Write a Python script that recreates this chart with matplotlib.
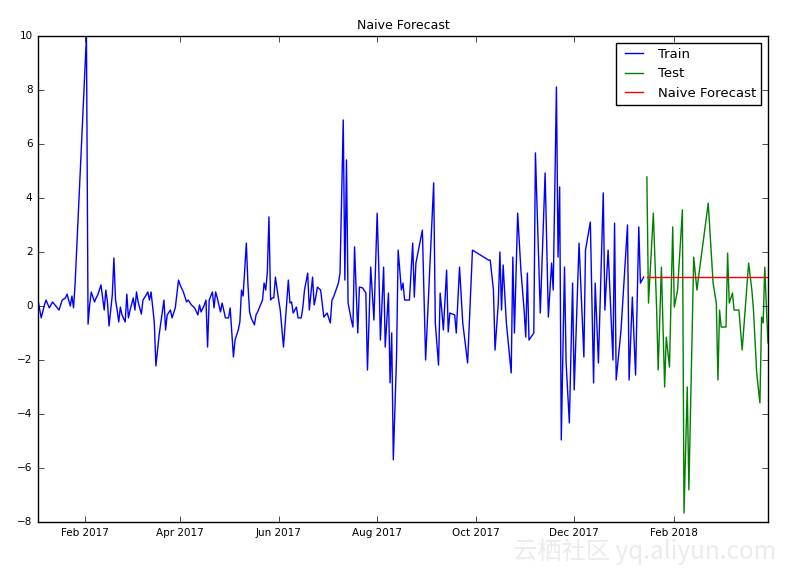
import matplotlib
matplotlib.use("Agg")
import matplotlib.pyplot as plt
import matplotlib.dates as mdates
import numpy as np
import pandas as pd

plt.style.use('classic')

START = "2017-01-01"

train_days = [2, 4, 6, 7, 9, 11, 13, 15, 17, 19, 20, 21, 22, 23, 24, 25,
              32, 33, 34, 35, 37, 38, 39, 40, 41, 43, 44, 45, 46, 48, 49, 50,
              51, 52, 53, 54, 56, 57, 58, 59, 61, 62, 63, 64, 66, 67, 69, 70,
              71, 72, 74, 75, 77, 79, 80, 81, 82, 84, 85, 87, 89, 90, 92, 94,
              95, 97, 99, 101, 102, 103, 105, 106, 107, 108, 110, 111, 112, 113,
              115, 116, 117, 118, 120, 121, 123, 124, 126, 127, 128, 129, 131,
              132, 133, 134, 136, 137, 138, 139, 141, 142, 143, 144, 145, 146,
              147, 148, 149, 151, 152, 154, 157, 158, 159, 160, 162, 163, 165,
              166, 167, 169, 170, 172, 173, 174, 175, 177, 179, 181, 183, 184,
              185, 188, 189, 191, 192, 193, 194, 196, 197, 198, 200, 201, 203,
              205, 206, 208, 210, 212, 213, 214, 216, 217, 219, 220, 221, 222,
              224, 225, 227, 228, 229, 232, 234, 235, 236, 240, 242, 247, 248,
              250, 251, 252, 253, 255, 256, 257, 260, 261, 263, 265, 268, 271,
              281, 282, 284, 285, 287, 288, 289, 290, 292, 295, 296, 297, 299,
              301, 303, 304, 305, 306, 309, 310, 312, 313, 316, 318, 320, 321,
              323, 324, 325, 326, 328, 329, 331, 333, 334, 337, 340, 341, 344,
              346, 347, 349, 352, 353, 355, 358, 359, 360, 363, 367, 368, 370,
              372, 374, 375, 377]
train_values = [0.22, -0.44, 0.04, 0.22, -0.07, 0.15, 0.0, -0.15, 0.22, 0.30, 0.44, 0.22, 0.0, 0.37, -0.07, 0.85,
                10.0, -0.67, 0.04, 0.52, 0.15, 0.30, 0.41, 0.59, 0.78, -0.15, 0.59, 0.15, -0.74, 0.41, 1.78, 0.22,
                -0.15, -0.59, -0.04, -0.33, -0.59, 0.44, -0.44, -0.15, 0.30, -0.15, 0.52, 0.15, -0.30, 0.22, 0.41, 0.52,
                0.22, 0.52, -0.59, -2.22, -1.07, -0.22, 0.22, -0.89, -0.33, -0.15, -0.44, -0.07, 0.96, 0.78, 0.52, 0.15,
                0.22, 0.04, -0.07, -0.33, 0.04, -0.22, 0.04, 0.22, -1.52, 0.22, 0.52, -0.07, 0.52, 0.30,
                -0.22, 0.11, -0.15, -0.44, -0.44, -0.07, -1.89, -1.26, -0.89, -0.59, 0.59, 0.37, 2.33,
                0.78, -0.22, -0.44, -0.70, -0.33, -0.22, -0.07, 0.22, 0.85, 0.59, 1.26, 3.30, 0.22,
                0.30, 0.30, 1.07, 0.22, -0.15, -1.52, 0.96, 0.11, 0.15, -0.26, -0.04, -0.44, -0.44,
                -0.04, 0.59, 1.22, -0.15, 1.07, 0.04, 0.33, 0.70, 0.59, -0.41, -0.26, -0.63, 0.22,
                0.33, 0.85, 1.22, 6.89, 0.96, 5.41, 0.11, -0.52, -0.78, 2.19, -1.0, 0.70, 0.67,
                0.48, -2.37, 1.44, -0.52, 3.44, 1.44, -1.26, 1.44, -1.52, 0.48, -2.85, -1.0, -5.70,
                -1.89, 2.07, 0.59, 0.85, 0.22, 0.22, 2.33, 0.33, 1.59, 2.81, -2.0, 4.56, -0.63,
                -2.19, 0.48, -0.15, -0.89, 1.33, -0.96, -0.26, -0.33, -1.0, 1.44, -0.63, -2.11, 2.07,
                1.70, 1.70, 0.59, -1.63, 0.11, 2.0, -0.15, 1.52, -0.63, -2.48, 1.81, -1.0, 3.44,
                1.33, -0.15, -1.15, 1.22, -1.26, -1.0, 5.67, 1.70, -0.26, 4.93, -0.41, 1.59, 0.59,
                8.11, 1.81, 4.41, -4.96, 1.44, -2.11, -4.33, 0.85, -3.11, 2.33, -1.89, 2.07, 3.11,
                -2.85, 0.85, -2.11, 4.19, -0.15, 2.07, -2.0, 3.07, -2.74, -0.89, 3.0, -2.74, 0.33,
                -2.56, 2.93, 0.85, 1.07]

test_days = [379, 380, 383, 385, 386, 388, 390, 391, 393, 395, 396, 398, 401, 402,
             404, 405, 408, 410, 411, 417, 420, 422, 423, 424, 425, 428, 429, 430,
             432, 433, 436, 438, 442, 444, 445, 447, 449, 450, 451, 452, 453, 454]
test_values = [4.78, 0.11, 3.44, -0.04, -2.37, 1.44, -3.0, -1.15, -2.26, 2.93, -0.04, 0.59, 3.56, -7.67,
               -3.0, -6.81, 1.81, 0.59, 1.07, 3.81, 0.85, 0.11, -2.74, -0.15, -0.78, -0.78, 1.96, 0.11,
               0.48, -0.15, -0.15, -1.63, 1.59, 0.59, -0.15, -2.48, -3.59, -0.41, -0.63, 1.44, -0.04, -1.37]

y_ticks = [-8, -6, -4, -2, 0, 2, 4, 6, 8, 10]

start = pd.Timestamp(START)
train_dates = (start + pd.to_timedelta(train_days, unit="D")).to_pydatetime()
test_dates = (start + pd.to_timedelta(test_days, unit="D")).to_pydatetime()
naive = np.full(len(test_values), train_values[-1])

fig = plt.figure(figsize=(7.86, 5.78), dpi=100, facecolor="white")
ax = fig.add_axes([38 / 786, 1 - 522 / 578, (768 - 38) / 786, (522 - 36) / 578])

ax.plot(train_dates, train_values, color="b", lw=1.0, label="Train")
ax.plot(test_dates, test_values, color="g", lw=1.0, label="Test")
ax.plot(test_dates, naive, color="r", lw=1.0, label="Naive Forecast")

ax.set_xlim(train_dates[0], test_dates[-1])
ax.set_ylim(-8, 10)
ax.set_yticks(y_ticks)
ax.xaxis.set_major_locator(mdates.MonthLocator(bymonth=[2, 4, 6, 8, 10, 12]))
ax.xaxis.set_major_formatter(mdates.DateFormatter("%b %Y"))
ax.xaxis.set_minor_locator(matplotlib.ticker.NullLocator())
ax.tick_params(labelsize=7.5)
ax.set_title("Naive Forecast", fontsize=9)
leg = ax.legend(loc="upper right", fontsize=9.5)
leg.get_frame().set_linewidth(1.0)

fig.text(0.987, 0.045, "云栖社区 yq.aliyun.com", ha="right", va="center",
         fontsize=17.5, color="#ebebeb",
         family=["Noto Sans CJK SC", "DejaVu Sans"])

fig.savefig("out.png", dpi=100, facecolor="white")
